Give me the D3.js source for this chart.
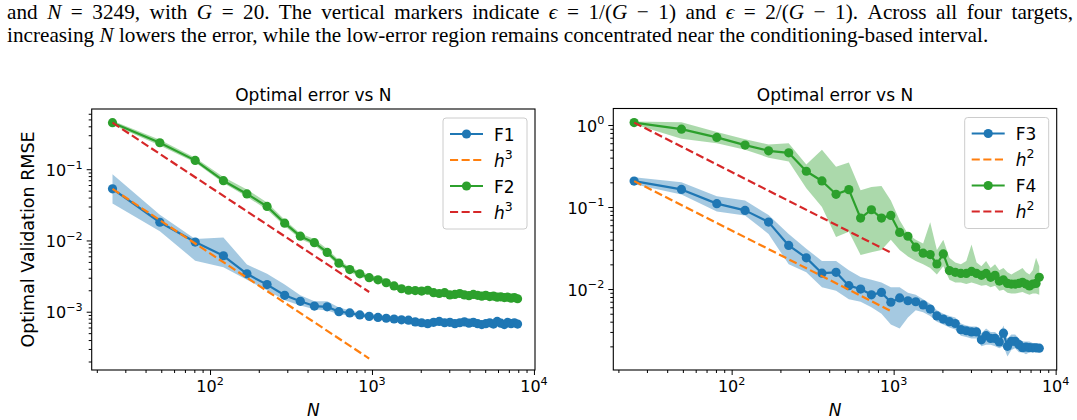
<!DOCTYPE html>
<html>
<head>
<meta charset="utf-8">
<title>Optimal error vs N</title>
<style>
  body { margin: 0; background: #fff; }
  svg { display: block; }
  .caption { font-family: "Liberation Serif", "DejaVu Serif", serif; font-size: 19px; fill: #000; }
  .sans { font-family: "DejaVu Sans", sans-serif; fill: #000; }
</style>
<script src="https://d3js.org/d3.v7.min.js"></script>
</head>
<body>
<svg id="chart" width="1077" height="420"></svg>
<script>
// sample sizes (odd squares 5^2 .. 89^2)
const N = [25, 49, 81, 121, 169, 225, 289, 361, 441, 529, 625, 729, 841, 961, 1089, 1225, 1369, 1521,
  1681, 1849, 2025, 2209, 2401, 2601, 2809, 3025, 3249, 3481, 3721, 3969, 4225, 4489, 4761, 5041,
  5329, 5625, 5929, 6241, 6561, 6889, 7225, 7569, 7921];

// left panel
const f1 = [0.053, 0.018, 0.0095, 0.0061, 0.0034, 0.0024, 0.0017, 0.0014, 0.0012, 0.00117,
  0.00100, 0.00096, 0.00090, 0.00086, 0.00083, 0.00081, 0.00079, 0.00077, 0.00076, 0.00072,
  0.00070, 0.00068, 0.00071, 0.00073, 0.00070, 0.00071, 0.00068, 0.00070, 0.00072, 0.00069,
  0.00071, 0.00068, 0.00066, 0.00068, 0.00070, 0.00067, 0.00073, 0.00069, 0.00066, 0.00071,
  0.00068, 0.00070, 0.00067];
const f1Lo = [0.033, 0.0135, 0.0052, 0.0042, 0.0028, 0.0020, 0.00145, 0.00122, 0.00108, 0.00104,
  0.00092, 0.00088, 0.00084, 0.0008, 0.00078, 0.00075, 0.00072, 0.0007, 0.00068, 0.00063,
  0.00061, 0.0006, 0.00063, 0.00065, 0.00063, 0.00064, 0.0006, 0.00063, 0.00065, 0.00062,
  0.00064, 0.00061, 0.0006, 0.00061, 0.00063, 0.0006, 0.00065, 0.00062, 0.0006, 0.00064,
  0.00061, 0.00063, 0.0006];
const f1Hi = [0.085, 0.023, 0.0105, 0.011, 0.0046, 0.0034, 0.0024, 0.0017, 0.0014, 0.0014,
  0.00115, 0.00105, 0.00097, 0.00092, 0.00089, 0.00087, 0.00085, 0.00083, 0.00082, 0.00079,
  0.00077, 0.00076, 0.00078, 0.0008, 0.00078, 0.00079, 0.00076, 0.00078, 0.0008, 0.00077,
  0.00079, 0.00076, 0.00074, 0.00076, 0.00078, 0.00075, 0.0008, 0.00077, 0.00074, 0.00079,
  0.00076, 0.00078, 0.00075];
const f2 = [0.45, 0.235, 0.133, 0.069, 0.045, 0.030, 0.0175, 0.0115, 0.0093, 0.0068,
  0.0048, 0.0039, 0.0034, 0.0030, 0.0028, 0.00255, 0.0023, 0.0021, 0.0020, 0.00198,
  0.00195, 0.0020, 0.00185, 0.0018, 0.00185, 0.00172, 0.00175, 0.0018, 0.00172, 0.00168,
  0.00175, 0.0017, 0.00165, 0.0017, 0.00163, 0.00166, 0.0016, 0.00162, 0.00158, 0.0016,
  0.00155, 0.00158, 0.00152];
const f2Lo = [0.42, 0.215, 0.124, 0.064, 0.041, 0.027, 0.016, 0.0105, 0.0086, 0.0062,
  0.0044, 0.0036, 0.0031, 0.0028, 0.0026, 0.00235, 0.00215, 0.00196, 0.00187, 0.00185,
  0.00182, 0.00186, 0.00172, 0.00168, 0.00172, 0.0016, 0.00163, 0.00168, 0.0016, 0.00157,
  0.00163, 0.00158, 0.00154, 0.00158, 0.00152, 0.00155, 0.00149, 0.00151, 0.00147, 0.00149,
  0.00144, 0.00147, 0.00141];
const f2Hi = [0.48, 0.26, 0.145, 0.078, 0.052, 0.034, 0.0195, 0.0125, 0.0105, 0.0076,
  0.0053, 0.0042, 0.0037, 0.0033, 0.0031, 0.0029, 0.0025, 0.00226, 0.00215, 0.00212,
  0.00208, 0.00215, 0.00198, 0.00193, 0.00198, 0.00185, 0.00188, 0.00193, 0.00185, 0.0018,
  0.00188, 0.00182, 0.00177, 0.00182, 0.00175, 0.00178, 0.00172, 0.00174, 0.0017, 0.00172,
  0.00166, 0.0017, 0.00163];

// right panel
const f3 = [0.207, 0.164, 0.11, 0.091, 0.0655, 0.034, 0.024, 0.0156, 0.016, 0.011,
  0.010, 0.0085, 0.0091, 0.0069, 0.0078, 0.0072, 0.0070, 0.0064, 0.0057, 0.0047,
  0.0043, 0.0040, 0.0038, 0.0032, 0.0031, 0.0030, 0.0030, 0.0024, 0.0027, 0.0025,
  0.0025, 0.00226, 0.0029, 0.0020, 0.0023, 0.0023, 0.0021, 0.00193, 0.00196, 0.00193,
  0.00192, 0.00192, 0.0019];
const f3Lo = [0.19, 0.142, 0.088, 0.079, 0.047, 0.02, 0.016, 0.0105, 0.0095, 0.0075,
  0.007, 0.006, 0.005, 0.0037, 0.0033, 0.0045, 0.0055, 0.0052, 0.0047, 0.004,
  0.0037, 0.0034, 0.0032, 0.0027, 0.0026, 0.0025, 0.0025, 0.002, 0.0021, 0.0021,
  0.002, 0.0019, 0.002, 0.0015, 0.0018, 0.0019, 0.0017, 0.0017, 0.0016, 0.0017,
  0.0017, 0.0017, 0.0017];
const f3Hi = [0.23, 0.2, 0.135, 0.12, 0.08, 0.047, 0.031, 0.022, 0.022, 0.017,
  0.014, 0.013, 0.012, 0.0105, 0.0105, 0.009, 0.0085, 0.0075, 0.0066, 0.0055,
  0.005, 0.0047, 0.0045, 0.0038, 0.0036, 0.0035, 0.0035, 0.0029, 0.0033, 0.003,
  0.003, 0.0027, 0.0036, 0.0025, 0.0028, 0.0028, 0.0025, 0.0023, 0.0023, 0.0023,
  0.0022, 0.0022, 0.0021];
const f4 = [1.07, 0.89, 0.706, 0.569, 0.485, 0.458, 0.273, 0.208, 0.143, 0.163,
  0.0733, 0.0927, 0.0733, 0.079, 0.049, 0.044, 0.0324, 0.0274, 0.0263, 0.0202,
  0.0268, 0.0168, 0.016, 0.0155, 0.0155, 0.0164, 0.0155, 0.0147, 0.0155, 0.0139,
  0.0147, 0.0125, 0.0129, 0.0117, 0.0115, 0.0115, 0.0117, 0.0121, 0.0115, 0.0109,
  0.0115, 0.0117, 0.0139];
const f4Lo = [1.02, 0.68, 0.6, 0.5, 0.4, 0.36, 0.17, 0.1, 0.043, 0.05,
  0.026, 0.028, 0.03, 0.04, 0.03, 0.025, 0.022, 0.02, 0.018, 0.015,
  0.019, 0.013, 0.012, 0.012, 0.0115, 0.012, 0.0115, 0.011, 0.0112, 0.0105,
  0.011, 0.0095, 0.0098, 0.009, 0.0088, 0.0088, 0.009, 0.0092, 0.0088, 0.0085,
  0.0088, 0.0088, 0.0085];
const f4Hi = [1.1, 1.08, 0.82, 0.67, 0.58, 0.6, 0.33, 0.5, 0.31, 0.35,
  0.16, 0.176, 0.18, 0.12, 0.069, 0.047, 0.04, 0.036, 0.065, 0.03,
  0.04, 0.024, 0.021, 0.02, 0.022, 0.035, 0.021, 0.019, 0.022, 0.018,
  0.02, 0.017, 0.018, 0.016, 0.015, 0.016, 0.017, 0.018, 0.016, 0.015,
  0.017, 0.024, 0.019];

// reference slopes (end points)
const refN = [25, 961];
const h3F1 = [0.053, 2.2e-4];
const h3F2 = [0.45, 1.89e-3];
const h2F3 = [0.207, 5.4e-3];
const h2F4 = [1.07, 0.0278];

const xTickVals = [100, 1000, 10000];
const xTickExp = ["2", "3", "4"];

const C0 = "#1f77b4", C1 = "#ff7f0e", C2 = "#2ca02c", C3 = "#d62728";

const svg = d3.select("#chart");

// caption: size line 2 to its natural width, then justify line 1 with word spacing
const cap2 = svg.append("text").attr("class", "caption").attr("x", 7).attr("y", 42);
cap2.append("tspan").text("increasing ");
cap2.append("tspan").attr("font-style", "italic").text("N");
cap2.append("tspan").text(" lowers the error, while the low-error region remains concentrated near the conditioning-based interval.");
const fs = 19 * 982 / cap2.node().getComputedTextLength();
cap2.style("font-size", fs + "px");

const cap1 = svg.append("text").attr("class", "caption").attr("x", 7).attr("y", 19).style("font-size", fs + "px");
const parts1 = [["and ", 0], ["N", 1], [" = 3249, with ", 0], ["G", 1], [" = 20. The vertical markers indicate ", 0],
 ["\u03f5", 1], [" = 1/(", 0], ["G", 1], [" \u2212 1) and ", 0], ["\u03f5", 1], [" = 2/(", 0], ["G", 1],
 [" \u2212 1). Across all four targets,", 0]];
parts1.forEach(([t, it]) => cap1.append("tspan").attr("font-style", it ? "italic" : null).text(t));
const nSpaces = parts1.map(p => p[0]).join("").split(" ").length - 1;
const extra = (1066 - cap1.node().getComputedTextLength()) / nSpaces;
cap1.attr("word-spacing", extra);

function minorTicks(domain) {
  const out = [];
  const lo = Math.floor(Math.log10(domain[0])), hi = Math.ceil(Math.log10(domain[1]));
  for (let e = lo; e < hi; e++) {
    for (let m = 2; m <= 9; m++) {
      const v = m * Math.pow(10, e);
      if (v >= domain[0] && v <= domain[1]) out.push(v);
    }
  }
  return out;
}

function powLabel(sel, exp, size) {
  sel.append("tspan").text("10");
  sel.append("tspan").attr("dy", -size * 0.45).attr("font-size", size * 0.7).text(exp);
}

function panel(p) {
  const g = svg.append("g");
  const x = d3.scaleLog().domain([18.6, 10150]).range([p.left, p.right]);
  const y = d3.scaleLog().domain(p.yDomain).range([p.bottom, p.top]);

  const rows = s => N.map((n, i) => ({ n, v: s.v[i], lo: s.lo[i], hi: s.hi[i] }));

  // bands below everything
  p.series.forEach(s => {
    g.append("path").datum(rows(s))
      .attr("d", d3.area().x(d => x(d.n)).y0(d => y(d.lo)).y1(d => y(d.hi)))
      .attr("fill", s.color).attr("fill-opacity", 0.4);
  });

  p.series.forEach(s => {
    g.append("path").datum(rows(s))
      .attr("d", d3.line().x(d => x(d.n)).y(d => y(d.v)))
      .attr("fill", "none").attr("stroke", s.color).attr("stroke-width", 2.2)
      .attr("stroke-linejoin", "round");
    g.append("g").selectAll("circle").data(rows(s)).join("circle")
      .attr("cx", d => x(d.n)).attr("cy", d => y(d.v)).attr("r", 4.6).attr("fill", s.color);
    g.append("path").datum(refN.map((n, i) => [n, s.ref[i]]))
      .attr("d", d3.line().x(d => x(d[0])).y(d => y(d[1])))
      .attr("fill", "none").attr("stroke", s.refColor).attr("stroke-width", 2.2)
      .attr("stroke-dasharray", "8.1,3.5");
  });

  // axes
  const xAxis = g.append("g").attr("transform", `translate(0,${p.bottom})`);
  xAxis.append("g").call(d3.axisBottom(x).tickValues(minorTicks(x.domain())).tickSize(3).tickFormat(""));
  xAxis.append("g").call(d3.axisBottom(x).tickValues(xTickVals).tickSize(5).tickFormat(""));
  xAxis.selectAll(".domain").remove();
  xAxis.selectAll("line").attr("stroke-width", 1);
  xTickVals.forEach((v, i) => {
    const t = xAxis.append("text").attr("class", "sans").attr("x", x(v)).attr("y", 22)
      .attr("text-anchor", "middle").attr("font-size", 16);
    powLabel(t, xTickExp[i], 16);
  });

  const yAxis = g.append("g").attr("transform", `translate(${p.left},0)`);
  yAxis.append("g").call(d3.axisLeft(y).tickValues(minorTicks(y.domain())).tickSize(3).tickFormat(""));
  yAxis.append("g").call(d3.axisLeft(y).tickValues(p.yTicks).tickSize(5).tickFormat(""));
  yAxis.selectAll(".domain").remove();
  yAxis.selectAll("line").attr("stroke-width", 1);
  p.yTicks.forEach((v, i) => {
    const t = yAxis.append("text").attr("class", "sans").attr("x", -9).attr("y", y(v) + 6.5)
      .attr("text-anchor", "end").attr("font-size", 16);
    powLabel(t, p.yTickExp[i], 16);
  });

  g.append("rect").attr("x", p.left).attr("y", p.top)
    .attr("width", p.right - p.left).attr("height", p.bottom - p.top)
    .attr("fill", "none").attr("stroke", "#000").attr("stroke-width", 1.1);

  const cx = (p.left + p.right) / 2;
  g.append("text").attr("class", "sans").attr("x", cx).attr("y", 101)
    .attr("text-anchor", "middle").attr("font-size", 17).text("Optimal error vs N");
  g.append("text").attr("class", "sans").attr("x", cx).attr("y", 416)
    .attr("text-anchor", "middle").attr("font-size", 17).attr("font-style", "italic").text("N");
  if (p.yLabel) {
    g.append("text").attr("class", "sans")
      .attr("transform", `translate(34,${(p.top + p.bottom) / 2}) rotate(-90)`)
      .attr("text-anchor", "middle").attr("font-size", 17.5).text(p.yLabel);
  }

  // legend
  const w = 84, h = 111;
  const bx = p.right - 8 - w, by = p.top + 9;
  const lg = g.append("g");
  lg.append("rect").attr("x", bx).attr("y", by).attr("width", w).attr("height", h).attr("rx", 3)
    .attr("fill", "#fff").attr("fill-opacity", 0.8).attr("stroke", "#cccccc").attr("stroke-width", 1);
  const items = [];
  p.series.forEach(s => {
    items.push({ color: s.color, marker: true, label: s.name });
    items.push({ color: s.refColor, marker: false, label: "h", exp: p.refExp });
  });
  items.forEach((it, i) => {
    const cy = by + 16 + i * 26;
    const x0 = bx + 7, x1 = x0 + 33;
    lg.append("line").attr("x1", x0).attr("x2", x1).attr("y1", cy).attr("y2", cy)
      .attr("stroke", it.color).attr("stroke-width", 2.2)
      .attr("stroke-dasharray", it.marker ? null : "8.1,3.5");
    if (it.marker) lg.append("circle").attr("cx", (x0 + x1) / 2).attr("cy", cy).attr("r", 4.6).attr("fill", it.color);
    const t = lg.append("text").attr("class", "sans").attr("x", x1 + 11).attr("y", cy + 6.5).attr("font-size", 17);
    if (it.exp) {
      t.append("tspan").attr("font-style", "italic").text(it.label);
      t.append("tspan").attr("dy", -8).attr("font-size", 12.5).text(it.exp);
    } else {
      t.text(it.label);
    }
  });
}

panel({
  left: 91.7, right: 535, top: 109, bottom: 370,
  yDomain: [1.52e-4, 0.70], yTicks: [0.1, 0.01, 0.001], yTickExp: ["\u22121", "\u22122", "\u22123"],
  yLabel: "Optimal Validation RMSE", refExp: "3",
  series: [
    { name: "F1", v: f1, lo: f1Lo, hi: f1Hi, color: C0, ref: h3F1, refColor: C1 },
    { name: "F2", v: f2, lo: f2Lo, hi: f2Hi, color: C2, ref: h3F2, refColor: C3 }
  ]
});

panel({
  left: 613.3, right: 1056.7, top: 108.5, bottom: 370,
  yDomain: [1.03e-3, 1.59], yTicks: [1, 0.1, 0.01], yTickExp: ["0", "\u22121", "\u22122"],
  yLabel: null, refExp: "2",
  series: [
    { name: "F3", v: f3, lo: f3Lo, hi: f3Hi, color: C0, ref: h2F3, refColor: C1 },
    { name: "F4", v: f4, lo: f4Lo, hi: f4Hi, color: C2, ref: h2F4, refColor: C3 }
  ]
});
</script>
</body>
</html>
